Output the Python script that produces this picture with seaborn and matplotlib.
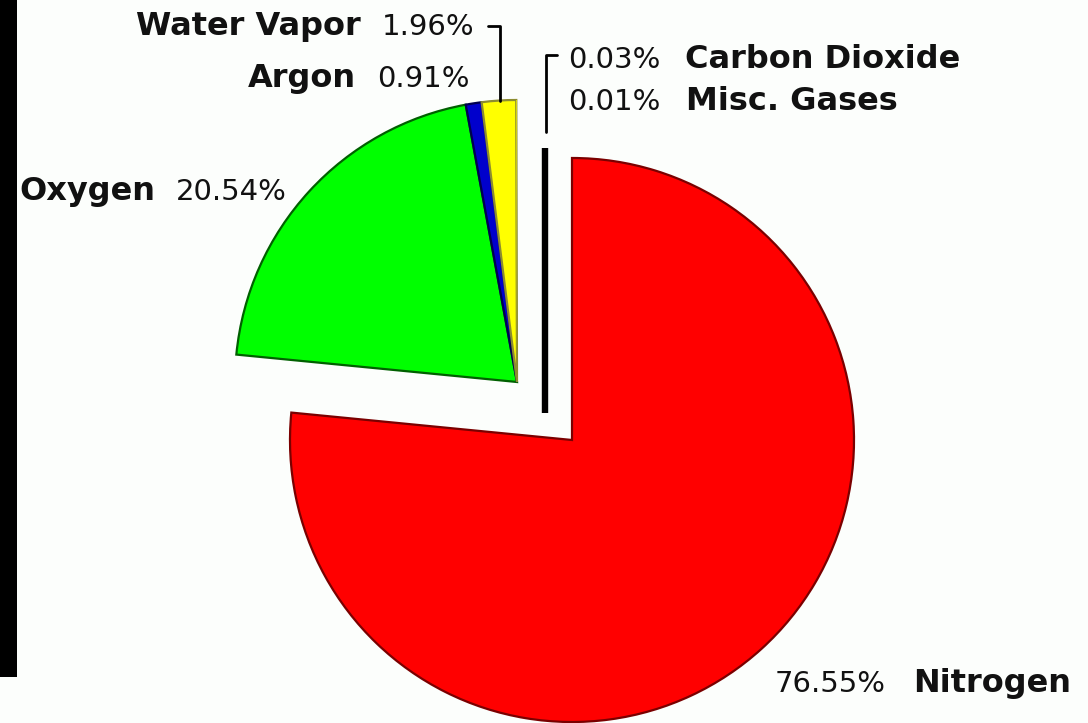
import matplotlib
matplotlib.use("Agg")
import matplotlib.pyplot as plt
import seaborn as sns
from matplotlib.patches import Rectangle

# ---- data ----
gases = ["Nitrogen", "Oxygen", "Argon", "Water Vapor", "Carbon Dioxide", "Misc. Gases"]
percent = [76.55, 20.54, 0.91, 1.96, 0.03, 0.01]
pct_labels = ["76.55%", "20.54%", "0.91%", "1.96%", "0.03%", "0.01%"]

# ---- styles ----
fill_colors = ["#ff0000", "#00ff00", "#0000cc", "#ffff00", "#ffff00", "#ffff00"]
edge_colors = ["#7a0000", "#006000", "#000050", "#8c8c30", "none", "none"]
BG = "#fcfefc"

sns.set_theme(style="white")
plt.rcParams["font.family"] = ["DejaVu Sans"]

fig = plt.figure(figsize=(10.88, 7.23), dpi=100, facecolor=BG)
ax = fig.add_axes([0, 0, 1, 1])
ax.set_facecolor(BG)

wedges, _ = ax.pie(percent, colors=fill_colors, startangle=90, counterclock=False,
                   center=(572, 283), radius=282,
                   wedgeprops=dict(linewidth=1.6))
for w, ec in zip(wedges, edge_colors):
    w.set_edgecolor(ec)
# explode the minor gases together as one group
for w in wedges[1:]:
    w.set_center((517, 341))

ax.set_xlim(0, 1088)
ax.set_ylim(0, 723)
ax.set_aspect("equal")
ax.axis("off")

# left black strip
ax.add_patch(Rectangle((0, 723 - 677), 17, 677, color="black", lw=0))
# thick separator line
ax.plot([545, 545], [723 - 148, 723 - 413], color="black", lw=4.6, solid_capstyle="butt")
# brackets
ax.plot([488, 500, 500], [723 - 26, 723 - 26, 723 - 101], color="black", lw=2.0)
ax.plot([557, 546, 546], [723 - 55, 723 - 55, 723 - 132], color="black", lw=2.0)

name_kw = dict(fontsize=23, fontweight="bold", color="#111111", va="baseline")
pct_kw = dict(fontsize=21, color="#111111", va="baseline")

# (name_x, name_ha, pct_x, pct_ha, baseline_y_img)
layout = {
    "Water Vapor": (361, "right", 382, "left", 35),
    "Argon": (356, "right", 377, "left", 87),
    "Oxygen": (19, "left", 176, "left", 200),
    "Carbon Dioxide": (685, "left", 568, "left", 68),
    "Misc. Gases": (686, "left", 568, "left", 110),
    "Nitrogen": (913, "left", 775, "left", 692),
}
for g, p in zip(gases, pct_labels):
    nx, nha, px, pha, by = layout[g]
    ax.text(nx, 723 - by, g, ha=nha, **name_kw)
    ax.text(px, 723 - by, p, ha=pha, **pct_kw)

fig.savefig("out.png", dpi=100, facecolor=BG)
